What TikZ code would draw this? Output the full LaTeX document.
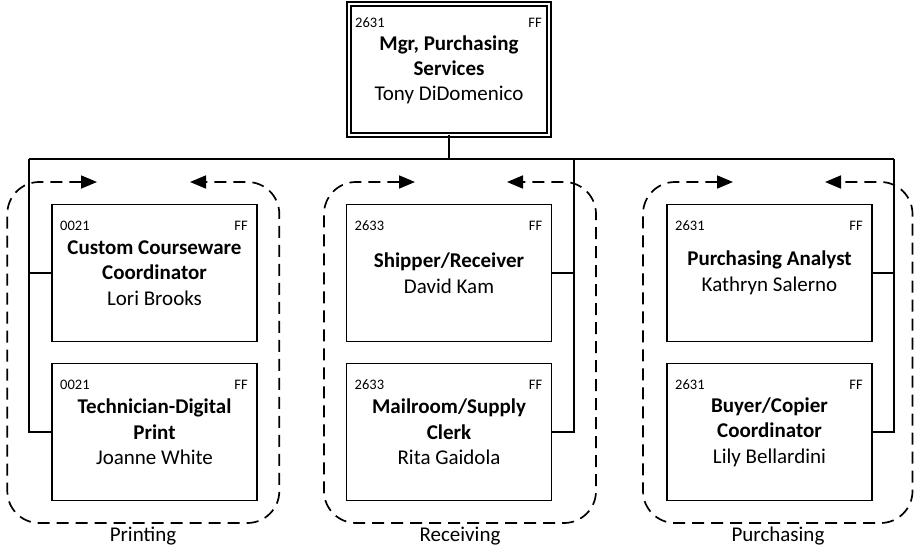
\documentclass[tikz,border=0pt]{standalone}
\usepackage{fontspec}
\setmainfont{Carlito}
\usetikzlibrary{arrows.meta,calc}
\tikzset{
  posbox/.style={draw, line width=1.8pt, minimum width=205pt, minimum height=137pt,
    align=center, inner sep=0pt, outer sep=0pt, font=\fontsize{21}{25.5}\selectfont},
  topbox/.style={draw, double, line width=1.4pt, double distance=2.6pt,
    minimum width=200pt, minimum height=131pt, align=center, inner sep=0pt, outer sep=0pt,
    font=\fontsize{21}{25}\selectfont},
  codetxt/.style={font=\fontsize{14.5}{16}\selectfont, inner sep=0pt},
  grouptxt/.style={font=\fontsize{21}{24}\selectfont, inner sep=0pt, anchor=base},
  conn/.style={line width=1.7pt},
  teamframe/.style={line width=1.7pt, dash pattern=on 12pt off 7pt, rounded corners=32pt,
    {Triangle[length=16pt,width=13pt]}-{Triangle[length=16pt,width=13pt]}}
}
\newcommand\drawteam[4]{% left, right, arrow left tip, arrow right tip
  \draw[teamframe] (#3,182) -- (#1,182) -- (#1,523) -- (#2,523) -- (#2,182) -- (#4,182);
}
\begin{document}
\begin{tikzpicture}[x=1pt,y=-1pt]
\useasboundingbox (0,0) rectangle (914,547);

% top box
\node[topbox] (top) at (449,69.5) {\textbf{Mgr, Purchasing}\\\textbf{Services}\\Tony DiDomenico};
\node[codetxt, anchor=base west] (topc) at ($(top.north west)+(6,23)$) {2631};
\node[codetxt, anchor=base east] (topf) at ($(top.north east)+(-7,23)$) {FF};

% position boxes
\node[posbox] (b1) at (154.5,273) {\textbf{Custom Courseware}\\\textbf{Coordinator}\\Lori Brooks};
\node[posbox] (b2) at (154.5,432) {\textbf{Technician-Digital}\\\textbf{Print}\\Joanne White};
\node[posbox] (b3) at (449,273) {\textbf{Shipper/Receiver}\\David Kam};
\node[posbox] (b4) at (449,432) {\textbf{Mailroom/Supply}\\\textbf{Clerk}\\Rita Gaidola};
\node[posbox] (b5) at (769.5,273) {\textbf{Purchasing Analyst}\\Kathryn Salerno};
\node[posbox] (b6) at (769.5,432) {\textbf{Buyer/Copier}\\\textbf{Coordinator}\\Lily Bellardini};

\node[codetxt, anchor=base west] (b1c) at ($(b1.north west)+(8,26)$) {0021};
\node[codetxt, anchor=base east] (b1f) at ($(b1.north east)+(-9,26)$) {FF};
\node[codetxt, anchor=base west] (b2c) at ($(b2.north west)+(8,26)$) {0021};
\node[codetxt, anchor=base east] (b2f) at ($(b2.north east)+(-9,26)$) {FF};
\node[codetxt, anchor=base west] (b3c) at ($(b3.north west)+(8,26)$) {2633};
\node[codetxt, anchor=base east] (b3f) at ($(b3.north east)+(-9,26)$) {FF};
\node[codetxt, anchor=base west] (b4c) at ($(b4.north west)+(8,26)$) {2633};
\node[codetxt, anchor=base east] (b4f) at ($(b4.north east)+(-9,26)$) {FF};
\node[codetxt, anchor=base west] (b5c) at ($(b5.north west)+(8,26)$) {2631};
\node[codetxt, anchor=base east] (b5f) at ($(b5.north east)+(-9,26)$) {FF};
\node[codetxt, anchor=base west] (b6c) at ($(b6.north west)+(8,26)$) {2631};
\node[codetxt, anchor=base east] (b6f) at ($(b6.north east)+(-9,26)$) {FF};

% connectors
\coordinate (jL) at (29,159);
\coordinate (jM) at (574,159);
\coordinate (jR) at (894,159);
\draw[conn] (top.south) -- (top.south |- jL);
\draw[conn] (jL) -- (jR);
\draw[conn] (jL) |- (b2.west);
\draw[conn] (jL |- b1.west) -- (b1.west);
\draw[conn] (jM) |- (b4.east);
\draw[conn] (jM |- b3.east) -- (b3.east);
\draw[conn] (jR) |- (b6.east);
\draw[conn] (jR |- b5.east) -- (b5.east);

% team frames
\drawteam{7.3}{279.3}{97}{190}
\drawteam{324}{596}{415}{507}
\drawteam{643}{912.5}{733}{825}

\node[grouptxt] (g1) at (143,541) {Printing};
\node[grouptxt] (g2) at (460,541) {Receiving};
\node[grouptxt] (g3) at (778,541) {Purchasing};
\end{tikzpicture}
\end{document}
